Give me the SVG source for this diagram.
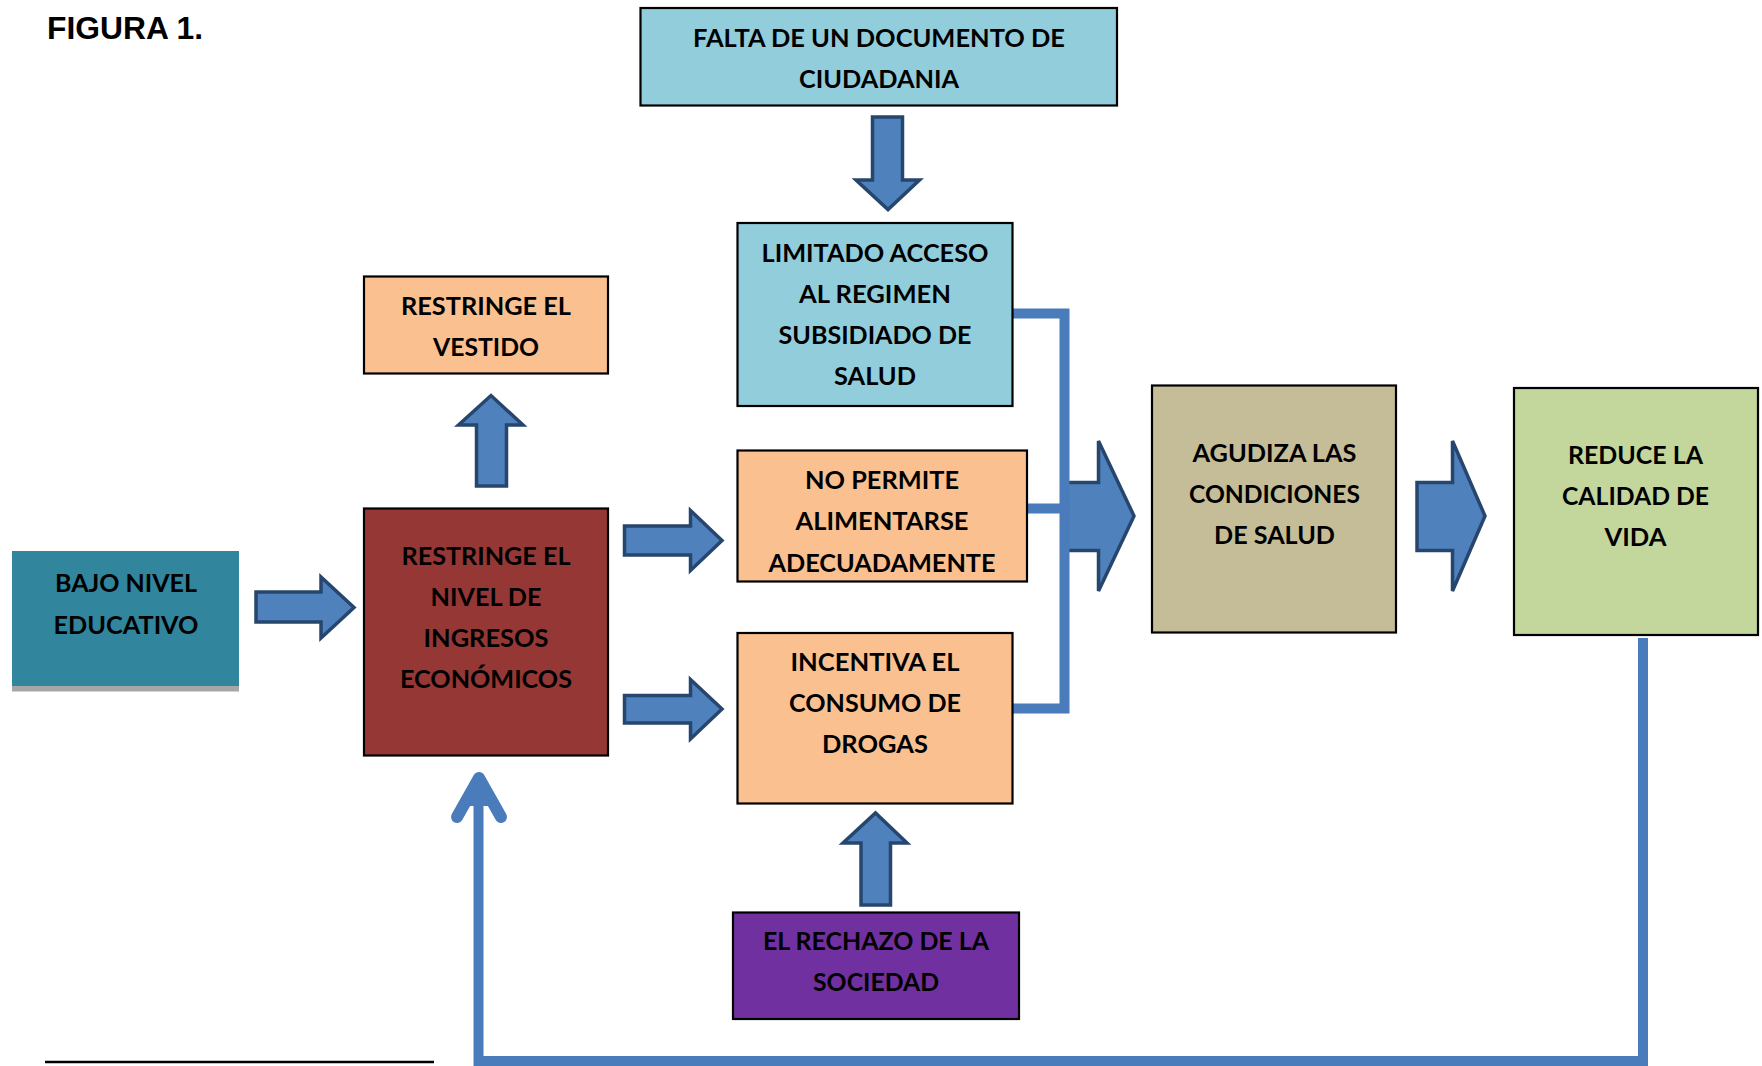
<svg xmlns="http://www.w3.org/2000/svg" width="1762" height="1066" viewBox="0 0 1762 1066">
<style>
.box{stroke:#000;stroke-width:2.2}
.t{font-family:Lato,"Liberation Sans",sans-serif;font-weight:bold;font-size:24px;fill:#000;text-anchor:middle}
.blk{fill:#4F81BD;stroke:#27466E;stroke-width:3.5;stroke-linejoin:miter}
.con{fill:none;stroke:#4A7BBA;stroke-width:10}
</style>
<rect width="1762" height="1066" fill="#fff"/>
<text x="47" y="39" font-family="'Liberation Sans',Arial,sans-serif" font-weight="bold" font-size="31" fill="#000" textLength="156" lengthAdjust="spacingAndGlyphs">FIGURA 1.</text>
<line x1="45" y1="1062" x2="434" y2="1062" stroke="#000" stroke-width="2.5"/>

<g id="connectors">
<path class="blk" d="M256,592 H321 V577 L354,607.5 L321,638 V622 H256 Z"/>
<path class="blk" d="M624.5,526 H690.5 V510.5 L722,540.5 L690.5,570.5 V555 H624.5 Z"/>
<path class="blk" d="M624.5,695.5 H690.5 V679.5 L722,709 L690.5,739 V723 H624.5 Z"/>
<path class="blk" d="M872.5,117 H902.5 V180 H919.5 L888,209.5 L856,180 H872.5 Z"/>
<path class="blk" d="M476.5,486 V425 H458.5 L491,395.5 L523,425 H506.5 V486 Z"/>
<path class="blk" d="M861,905 V843 H843 L875.5,813 L907,843 H890.5 V905 Z"/>
<path class="blk" d="M1066,482.5 H1098.5 V441 L1134,516 L1098.5,591 V550.5 H1066 Z"/>
<path class="blk" d="M1417,482.5 H1452.5 V441 L1485,516 L1452.5,591 V550.5 H1417 Z"/>
<path class="con" d="M1012,313.5 H1064.5 V708.5 H1013"/>
<path class="con" d="M1027,508.5 H1064.5"/>
<path class="con" d="M1643,638 V1061 H478.5 V790"/>
<path d="M457,817 L479,778 L501,817" fill="none" stroke="#4A7BBA" stroke-width="12" stroke-linecap="round" stroke-linejoin="round"/>
<path d="M479,778 L468,806 L490,806 Z" fill="#4A7BBA"/>
</g>

<g id="falta">
<rect class="box" x="640.5" y="8" width="476.5" height="97.5" fill="#92CDDC"/>
<text class="t" x="879" y="46.5" textLength="372" lengthAdjust="spacingAndGlyphs">FALTA DE UN DOCUMENTO DE</text>
<text class="t" x="879" y="87.5" textLength="160" lengthAdjust="spacingAndGlyphs">CIUDADANIA</text>
</g>

<g id="limitado">
<rect class="box" x="737.5" y="223" width="275" height="183" fill="#92CDDC"/>
<text class="t" x="875" y="261.5" textLength="227" lengthAdjust="spacingAndGlyphs">LIMITADO ACCESO</text>
<text class="t" x="875" y="302.5" textLength="152" lengthAdjust="spacingAndGlyphs">AL REGIMEN</text>
<text class="t" x="875" y="343.5" textLength="193" lengthAdjust="spacingAndGlyphs">SUBSIDIADO DE</text>
<text class="t" x="875" y="384.5" textLength="82" lengthAdjust="spacingAndGlyphs">SALUD</text>
</g>

<g id="vestido">
<rect class="box" x="364" y="276.5" width="244" height="97" fill="#FAC090"/>
<text class="t" x="486" y="314.5" textLength="170" lengthAdjust="spacingAndGlyphs">RESTRINGE EL</text>
<text class="t" x="486" y="355.5" textLength="106" lengthAdjust="spacingAndGlyphs">VESTIDO</text>
</g>

<g id="bajo">
<rect x="12" y="686" width="227" height="5.5" fill="#A6A6A6"/>
<rect x="12" y="551" width="227" height="135" fill="#31859C"/>
<text class="t" x="126" y="592" textLength="142" lengthAdjust="spacingAndGlyphs">BAJO NIVEL</text>
<text class="t" x="126" y="633.5" textLength="145" lengthAdjust="spacingAndGlyphs">EDUCATIVO</text>
</g>

<g id="ingresos">
<rect class="box" x="364" y="508.5" width="244" height="247" fill="#953735"/>
<text class="t" x="486" y="564.5" textLength="169" lengthAdjust="spacingAndGlyphs">RESTRINGE EL</text>
<text class="t" x="486" y="605.5" textLength="111" lengthAdjust="spacingAndGlyphs">NIVEL DE</text>
<text class="t" x="486" y="646.5" textLength="125" lengthAdjust="spacingAndGlyphs">INGRESOS</text>
<text class="t" x="486" y="688" textLength="172" lengthAdjust="spacingAndGlyphs">ECONÓMICOS</text>
</g>

<g id="nopermite">
<rect class="box" x="737.5" y="450.5" width="289.5" height="131" fill="#FAC090"/>
<text class="t" x="882" y="488.5" textLength="154" lengthAdjust="spacingAndGlyphs">NO PERMITE</text>
<text class="t" x="882" y="530" textLength="173" lengthAdjust="spacingAndGlyphs">ALIMENTARSE</text>
<text class="t" x="882" y="571.5" textLength="227" lengthAdjust="spacingAndGlyphs">ADECUADAMENTE</text>
</g>

<g id="incentiva">
<rect class="box" x="737.5" y="633" width="275" height="170.5" fill="#FAC090"/>
<text class="t" x="875" y="670.5" textLength="169" lengthAdjust="spacingAndGlyphs">INCENTIVA EL</text>
<text class="t" x="875" y="711.5" textLength="172" lengthAdjust="spacingAndGlyphs">CONSUMO DE</text>
<text class="t" x="875" y="753" textLength="106" lengthAdjust="spacingAndGlyphs">DROGAS</text>
</g>

<g id="rechazo">
<rect class="box" x="733" y="912.5" width="286" height="106.5" fill="#7030A0"/>
<text class="t" x="876" y="949.5" textLength="226" lengthAdjust="spacingAndGlyphs">EL RECHAZO DE LA</text>
<text class="t" x="876" y="991" textLength="126" lengthAdjust="spacingAndGlyphs">SOCIEDAD</text>
</g>

<g id="agudiza">
<rect class="box" x="1152" y="385.5" width="244" height="247" fill="#C4BD97"/>
<text class="t" x="1274.5" y="461.5" textLength="164" lengthAdjust="spacingAndGlyphs">AGUDIZA LAS</text>
<text class="t" x="1274.5" y="503" textLength="171" lengthAdjust="spacingAndGlyphs">CONDICIONES</text>
<text class="t" x="1274.5" y="544" textLength="121" lengthAdjust="spacingAndGlyphs">DE SALUD</text>
</g>

<g id="reduce">
<rect class="box" x="1514" y="388" width="244" height="247" fill="#C3D69B"/>
<text class="t" x="1635.5" y="463.5" textLength="135" lengthAdjust="spacingAndGlyphs">REDUCE LA</text>
<text class="t" x="1635.5" y="505" textLength="147" lengthAdjust="spacingAndGlyphs">CALIDAD DE</text>
<text class="t" x="1635.5" y="546" textLength="62" lengthAdjust="spacingAndGlyphs">VIDA</text>
</g>
</svg>
